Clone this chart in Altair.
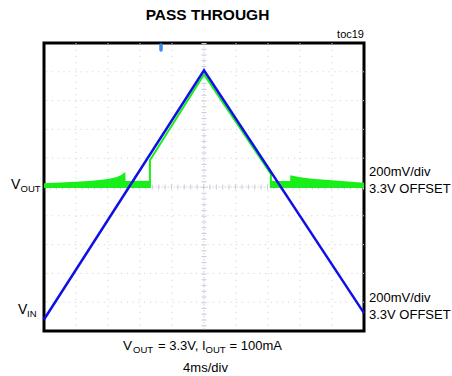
import altair as alt
import pandas as pd

# ---- data (time in divisions 0..10, amplitude in divisions 0..10) ----
vin_t = [0.0, 5.0, 10.0]
vin_v = [0.40, 9.05, 0.62]

vout_t = [0.0, 3.31, 3.31, 5.0, 7.09, 7.09, 10.0]
vout_v = [5.0, 5.0, 5.93, 8.91, 5.45, 5.0, 5.0]

band_l_t = [0.0, 0.5, 1.0, 1.5, 2.0, 2.25, 2.4, 2.54, 2.55, 3.0, 3.31]
band_l_top = [5.13, 5.16, 5.18, 5.22, 5.28, 5.34, 5.41, 5.52, 5.21, 5.22, 5.21]
band_r_t = [7.09, 7.69, 7.70, 8.0, 8.38, 8.9, 9.5, 10.0]
band_r_top = [5.21, 5.21, 5.41, 5.34, 5.29, 5.24, 5.19, 5.15]
band_base = 5.0

grid_ticks = [1, 2, 3, 4, 6, 7, 8, 9]
center_tick = [5]

FONT = "Liberation Sans, Arial, sans-serif"
BLUE = "#1010e6"
GREEN = "#1aee1a"

xs = alt.Scale(domain=[0, 10], nice=False, zero=False)
ys = alt.Scale(domain=[0, 10], nice=False, zero=False)
noax = None

vin_df = pd.DataFrame({"t": vin_t, "v": vin_v, "o": range(len(vin_t))})
vout_df = pd.DataFrame({"t": vout_t, "v": vout_v, "o": range(len(vout_t))})
band_df = pd.DataFrame({
    "t": band_l_t + band_r_t,
    "top": band_l_top + band_r_top,
    "base": [band_base] * (len(band_l_t) + len(band_r_t)),
    "seg": ["L"] * len(band_l_t) + ["R"] * len(band_r_t),
})
gx_df = pd.DataFrame({"g": grid_ticks})
c_df = pd.DataFrame({"g": center_tick})

gridv = alt.Chart(gx_df).mark_rule(color="#cccccc", strokeWidth=1, strokeDash=[1, 5.4]).encode(
    x=alt.X("g:Q", scale=xs, axis=noax))
gridh = alt.Chart(gx_df).mark_rule(color="#cccccc", strokeWidth=1, strokeDash=[1, 4.76]).encode(
    y=alt.Y("g:Q", scale=ys, axis=noax))
cv = alt.Chart(c_df).mark_rule(color="#ccccdd", strokeWidth=1, strokeDash=[1.5, 1.5]).encode(
    x=alt.X("g:Q", scale=xs, axis=noax))
cvt = alt.Chart(c_df).mark_rule(color="#ccccdd", strokeWidth=5, strokeDash=[1, 4.76]).encode(
    x=alt.X("g:Q", scale=xs, axis=noax))
ch = alt.Chart(c_df).mark_rule(color="#ccccdd", strokeWidth=1, strokeDash=[1.5, 1.5]).encode(
    y=alt.Y("g:Q", scale=ys, axis=noax))
cht = alt.Chart(c_df).mark_rule(color="#ccccdd", strokeWidth=5, strokeDash=[1, 5.4]).encode(
    y=alt.Y("g:Q", scale=ys, axis=noax))

band = alt.Chart(band_df).mark_area(color=GREEN, opacity=1).encode(
    x=alt.X("t:Q", scale=xs, axis=noax),
    y=alt.Y("top:Q", scale=ys, axis=noax),
    y2="base:Q",
    detail="seg:N",
)
vout = alt.Chart(vout_df).mark_line(color=GREEN, strokeWidth=2).encode(
    x=alt.X("t:Q", scale=xs, axis=noax),
    y=alt.Y("v:Q", scale=ys, axis=noax),
    order="o:Q",
)
vin = alt.Chart(vin_df).mark_line(color=BLUE, strokeWidth=2.5).encode(
    x=alt.X("t:Q", scale=xs, axis=noax),
    y=alt.Y("v:Q", scale=ys, axis=noax),
    order="o:Q",
)
trig = alt.Chart(c_df).mark_rule(color="#3a8ae6", strokeWidth=3.5, strokeCap="round").encode(
    x=alt.value(117), y=alt.value(2), y2=alt.value(7))


def txt(s, x, y, size=13, align="left", bold=False, font=FONT):
    return alt.Chart(c_df).mark_text(
        text=s, align=align, baseline="alphabetic", fontSize=size, font=font,
        fontWeight="bold" if bold else "normal", color="black",
    ).encode(x=alt.value(x), y=alt.value(y))


labels = [
    txt("PASS THROUGH", 163.5, -23, size=15.5, align="center", bold=True),
    txt("toc19", 320, -5, size=11, align="right"),
    txt("V", -33, 146, size=14), txt("OUT", -23.5, 149, size=9.5),
    txt("V", -26, 271, size=14), txt("IN", -17, 274, size=9.5),
    txt("200mV/div", 325, 133), txt("3.3V OFFSET", 325, 149.5),
    txt("200mV/div", 325, 258.7), txt("3.3V OFFSET", 325, 276.3),
    txt("V", 79, 307, size=13.5), txt("OUT", 89, 310.3, size=9.5),
    txt("= 3.3V, I", 114, 307), txt("OUT", 161.5, 310.3, size=9.5),
    txt("= 100mA", 185.5, 307),
    txt("4ms/div", 161.5, 328.5, align="center"),
]

chart = alt.layer(gridv, gridh, cv, cvt, ch, cht, band, vout, vin, trig, *labels).properties(
    width=320, height=288,
    autosize=alt.AutoSizeParams(type="none"),
    padding={"left": 44, "top": 43, "right": 88, "bottom": 45},
).configure_view(stroke="black", strokeWidth=3)

chart.save("out.html", embed_options={"renderer": "svg", "actions": False})
